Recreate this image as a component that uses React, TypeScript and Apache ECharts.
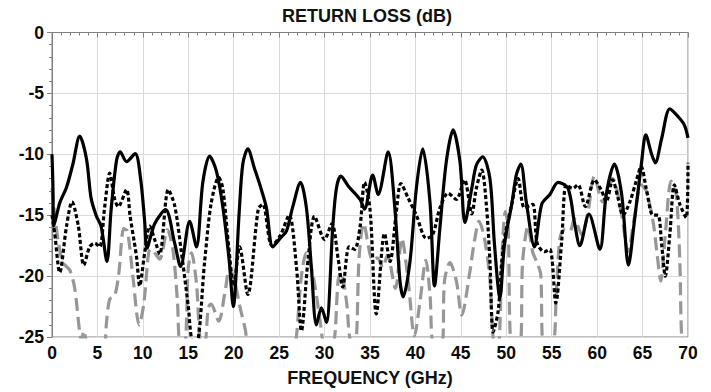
import React, { useEffect, useRef } from "react";
import * as echarts from "echarts";

const title = "RETURN LOSS (dB)";
const xTitle = "FREQUENCY (GHz)";
const xTicks = [0, 5, 10, 15, 20, 25, 30, 35, 40, 45, 50, 55, 60, 65, 70];
const yTicks = [-25, -20, -15, -10, -5, 0];

// Solid black trace
const solidF = [0, 0.1, 0.2, 0.85, 1.6, 2.3, 3.05, 3.8, 4.3, 4.9, 5.4, 6.05, 6.5, 7.1, 7.5, 8.2, 9.15, 9.75, 10.2, 10.45, 11.3, 12.5, 13.5, 14.15, 15.15, 15.9, 16.6, 17.35, 18.1, 18.8, 19.5, 19.95, 20.6, 21.0, 21.55, 22.3, 23.0, 23.6, 24.3, 25.1, 25.8, 26.5, 27.35, 28.0, 28.55, 29.1, 29.65, 30.2, 30.9, 31.3, 31.8, 32.6, 33.9, 34.4, 35.3, 35.9, 37.0, 37.7, 38.3, 38.65, 39.4, 40.1, 40.8, 41.6, 42.1, 42.7, 43.4, 44.15, 44.9, 45.45, 46.2, 46.7, 47.4, 48.2, 48.7, 49.3, 49.8, 50.6, 51.1, 51.6, 52.2, 53.1, 53.9, 54.8, 55.7, 56.8, 57.5, 58.1, 59.1, 60.3, 61.0, 61.9, 62.7, 63.45, 64.1, 64.9, 65.35, 66.0, 66.4, 67.1, 68.0, 68.9, 69.6, 70];
const solidDb = [-10.0, -12.5, -15.9, -14.0, -12.7, -10.8, -8.5, -10.4, -13.6, -15.1, -15.9, -18.8, -14.6, -10.5, -9.8, -10.6, -9.95, -12.0, -15.5, -17.7, -15.7, -14.55, -17.3, -19.2, -15.5, -17.6, -12.3, -10.15, -11.4, -14.3, -18.7, -22.5, -14.8, -10.8, -9.55, -11.2, -12.8, -14.4, -17.6, -16.9, -16.3, -14.3, -12.3, -14.4, -19.3, -24.0, -22.6, -23.8, -16.0, -12.8, -11.8, -12.6, -13.7, -14.5, -11.7, -13.3, -9.8, -14.1, -20.4, -21.7, -18.8, -12.8, -9.55, -13.9, -20.8, -16.0, -10.6, -8.0, -10.6, -15.6, -12.8, -10.9, -10.2, -12.0, -17.4, -21.8, -17.4, -14.1, -11.7, -10.8, -13.9, -17.6, -14.1, -13.3, -12.3, -12.8, -15.6, -17.5, -14.9, -17.8, -13.3, -10.8, -13.3, -19.1, -15.5, -10.6, -8.4, -10.0, -10.7, -8.7, -6.27, -6.9, -7.6, -8.65];

// Dotted black trace
const dottedF = [0, 0.3, 0.85, 1.6, 2.2, 2.9, 3.5, 4.15, 4.7, 5.25, 5.8, 6.35, 6.9, 7.3, 8.2, 8.6, 9.3, 9.65, 10.2, 10.75, 11.3, 11.85, 12.8, 13.5, 14.2, 15.0, 15.4, 15.9, 16.8, 17.5, 18.35, 18.8, 19.45, 20.0, 20.65, 21.55, 22.7, 23.2, 24.2, 25.1, 26.1, 26.9, 27.45, 28.2, 28.9, 30.0, 30.8, 31.5, 32.0, 32.7, 33.3, 33.9, 34.4, 35.0, 35.7, 36.6, 37.2, 37.9, 38.4, 39.2, 40.1, 41.2, 41.9, 42.7, 43.6, 44.5, 45.4, 46.2, 46.7, 47.3, 47.8, 48.2, 48.55, 49.1, 49.5, 49.8, 50.6, 51.3, 52.0, 52.9, 53.4, 54.2, 54.8, 55.45, 56.1, 56.6, 57.3, 57.9, 58.7, 59.7, 60.5, 61.0, 61.7, 62.3, 62.85, 63.6, 64.3, 64.85, 65.4, 66.15, 66.7, 67.1, 67.5, 68.0, 68.5, 69.1, 69.8, 70];
const dottedDb = [-15.0, -16.5, -19.7, -15.9, -13.9, -15.9, -19.1, -17.6, -17.3, -17.6, -14.3, -11.55, -13.7, -14.3, -12.9, -15.1, -18.4, -20.8, -18.1, -15.9, -17.0, -18.2, -12.9, -14.2, -17.8, -22.5, -25.3, -25.5, -18.8, -14.1, -11.9, -12.8, -17.6, -20.8, -17.6, -21.5, -14.5, -14.1, -17.5, -16.7, -15.0, -19.2, -24.5, -18.5, -15.1, -17.0, -15.7, -18.6, -20.9, -17.6, -17.8, -16.0, -12.3, -14.5, -23.1, -16.5, -18.8, -14.7, -12.4, -13.6, -15.0, -16.9, -16.6, -14.4, -13.2, -13.7, -12.1, -14.9, -12.8, -11.3, -14.1, -18.8, -24.6, -22.9, -18.8, -16.9, -14.1, -12.0, -14.4, -14.1, -17.3, -18.0, -17.8, -22.2, -17.1, -12.5, -12.8, -12.5, -14.3, -12.1, -13.0, -13.9, -12.1, -13.6, -15.0, -13.9, -12.2, -11.0, -12.8, -15.0, -15.0, -17.4, -20.0, -16.6, -12.5, -14.1, -15.2, -10.7];

// Grey dashed trace
const dashedF = [0, 0.3, 0.7, 1.2, 1.95, 2.5, 3.0, 3.25, 3.5, 3.8, 4.5, 5.5, 6.0, 6.35, 6.9, 7.35, 7.9, 8.3, 8.9, 9.6, 10.1, 10.8, 11.2, 11.85, 12.7, 13.3, 13.8, 14.1, 14.6, 15.0, 15.35, 15.9, 16.4, 16.8, 17.2, 17.5, 18.35, 19.0, 19.55, 20.1, 20.65, 21.3, 21.6, 26.5, 26.9, 27.45, 28.0, 28.8, 29.5, 30.0, 30.9, 31.5, 31.8, 32.4, 32.9, 33.4, 33.8, 34.3, 35.3, 35.8, 36.4, 36.9, 37.8, 38.5, 39.2, 39.9, 40.5, 41.15, 41.6, 42.0, 42.9, 43.2, 43.8, 44.5, 45.1, 46.0, 46.5, 47.0, 47.6, 48.2, 48.5, 48.8, 49.2, 49.5, 49.9, 50.2, 50.6, 51.5, 51.8, 52.4, 52.9, 53.5, 53.8, 54.1, 55.1, 55.5, 55.9, 56.4, 57.0, 57.5, 58.3, 59.0, 59.7, 60.6, 61.7, 62.7, 63.4, 64.1, 64.85, 65.4, 66.15, 66.6, 67.0, 67.5, 68.15, 68.7, 69.1, 69.35, 70];
const dashedDb = [-12.8, -15.0, -17.2, -18.9, -19.5, -21.0, -24.3, -25.3, -24.5, -25.5, -28, -28, -23.8, -21.9, -21.6, -19.8, -16.1, -16.3, -20.0, -24.0, -22.3, -17.8, -18.0, -18.6, -16.2, -17.8, -22.0, -25.5, -25.5, -19.3, -18.1, -20.6, -25.5, -25.5, -22.6, -22.3, -23.7, -21.5, -19.4, -20.4, -22.4, -24.5, -26, -27, -25.0, -20.0, -18.1, -20.2, -23.6, -25.5, -25.5, -20.3, -19.7, -22.0, -25.3, -25.3, -18.5, -15.7, -18.7, -18.5, -19.3, -18.3, -21.0, -16.9, -20.4, -24.9, -22.1, -18.7, -21.5, -25.5, -25.5, -20.4, -18.9, -20.4, -23.2, -19.6, -17.1, -15.5, -16.9, -20.3, -24.6, -26, -25.5, -18.8, -14.7, -16.0, -25.5, -25.5, -18.8, -15.9, -18.0, -19.1, -19.9, -25.5, -25.5, -21.5, -16.9, -16.2, -16.3, -15.3, -16.6, -14.7, -11.8, -13.9, -12.0, -15.0, -18.0, -15.2, -12.5, -13.0, -15.5, -18.2, -20.4, -16.6, -12.2, -13.3, -18.8, -25.5, -28];

const pair = (xs: number[], ys: number[]) => xs.map((x, i) => [x, ys[i]]);

const FONT = "'Liberation Sans', Arial, sans-serif";

export default function App() {
  const ref = useRef<HTMLDivElement>(null);
  useEffect(() => {
    if (!ref.current) return;
    const chart = echarts.init(ref.current, null, { renderer: "svg" });
    const axisGrey = "#808080";
    chart.setOption({
      animation: false,
      backgroundColor: "#ffffff",
      graphic: [
        {
          type: "text",
          x: 367,
          y: 7,
          style: {
            text: title,
            fontFamily: FONT,
            fontWeight: "bold",
            fontSize: 18,
            fill: "#111",
            align: "center",
            verticalAlign: "top",
          },
        },
      ],
      grid: {
        left: 52,
        right: 23,
        top: 32.5,
        bottom: 54.5,
        show: true,
        borderColor: axisGrey,
        borderWidth: 1,
        backgroundColor: "transparent",
      },
      xAxis: {
        type: "value",
        min: xTicks[0],
        max: xTicks[xTicks.length - 1],
        interval: 5,
        name: xTitle,
        nameLocation: "middle",
        nameGap: 32,
        nameTextStyle: { fontFamily: FONT, fontWeight: "bold", fontSize: 18, color: "#111" },
        axisLine: { show: true, lineStyle: { color: axisGrey, width: 1 } },
        axisTick: { show: true, length: 5, lineStyle: { color: axisGrey } },
        minorTick: { show: true, splitNumber: 5, length: 3, lineStyle: { color: axisGrey } },
        splitLine: { show: true, lineStyle: { color: "#dadada", width: 1 } },
        axisLabel: { fontFamily: FONT, fontWeight: "bold", fontSize: 17.5, color: "#0a0a0a", margin: 7 },
      },
      yAxis: {
        type: "value",
        min: yTicks[0],
        max: yTicks[yTicks.length - 1],
        interval: 5,
        axisLine: { show: true, lineStyle: { color: axisGrey, width: 1 } },
        axisTick: { show: true, length: 5, lineStyle: { color: axisGrey } },
        minorTick: { show: true, splitNumber: 5, length: 3, lineStyle: { color: axisGrey } },
        splitLine: { show: true, lineStyle: { color: "#dadada", width: 1 } },
        axisLabel: { fontFamily: FONT, fontWeight: "bold", fontSize: 17.5, color: "#0a0a0a", margin: 8 },
      },
      series: [
        {
          type: "line",
          data: pair(dashedF, dashedDb),
          showSymbol: false,
          smooth: 0.3,
          clip: true,
          lineStyle: { color: "#979797", width: 3.2, type: [13, 6] },
        },
        {
          type: "line",
          data: pair(dottedF, dottedDb),
          showSymbol: false,
          smooth: 0.3,
          clip: true,
          lineStyle: { color: "#000", width: 3.2, type: [4, 2.5] },
        },
        {
          type: "line",
          data: pair(solidF, solidDb),
          showSymbol: false,
          smooth: 0.3,
          clip: true,
          lineStyle: { color: "#000", width: 3.2 },
        },
      ],
    });
    return () => chart.dispose();
  }, []);
  return (
    <div
      ref={ref}
      style={{ position: "fixed", left: 0, top: 0, width: 711, height: 392, background: "#fff" }}
    />
  );
}
